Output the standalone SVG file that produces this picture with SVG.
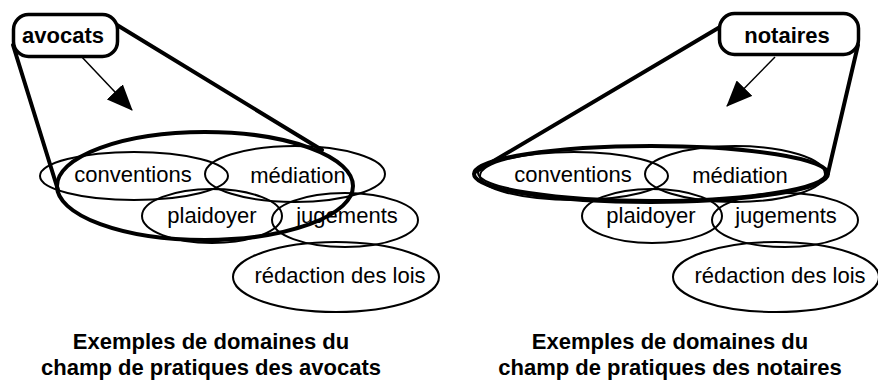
<svg xmlns="http://www.w3.org/2000/svg" width="878" height="381" viewBox="0 0 878 381">
<style>
  .dom { fill: none; stroke: #000; stroke-width: 2; }
  .scope { fill: none; stroke: #000; stroke-width: 4; }
  .box { fill: #fff; stroke: #000; stroke-width: 3.5; }
  .lbl { font-family: "Liberation Sans", Arial, sans-serif; font-size: 22px; fill: #000; text-anchor: middle; }
  .bold { font-weight: bold; }
  .arrow { fill: none; stroke: #000; stroke-width: 1.5; }
  .edge { fill: none; stroke: #000; stroke-width: 4; stroke-linecap: round; }
</style>
<defs>
  <marker id="head" viewBox="0 0 26 22" refX="25" refY="11" markerWidth="26" markerHeight="22" markerUnits="userSpaceOnUse" orient="auto">
    <path d="M0,0 L26,11 L0,22 Z" fill="#000"/>
  </marker>
</defs>
<rect width="878" height="381" fill="#fff"/>

<!-- Left panel: domains -->
<g id="l-conventions"><ellipse class="dom" cx="134" cy="176" rx="94" ry="24"/><text class="lbl" x="133" y="182">conventions</text></g>
<g id="l-mediation"><ellipse class="dom" cx="295" cy="174" rx="90" ry="28"/><text class="lbl" x="298" y="183">médiation</text></g>
<g id="l-plaidoyer"><ellipse class="dom" cx="212" cy="216" rx="70" ry="27"/><text class="lbl" x="212" y="223">plaidoyer</text></g>
<g id="l-jugements"><ellipse class="dom" cx="345" cy="220" rx="73" ry="27"/><text class="lbl" x="347" y="223">jugements</text></g>
<g id="l-redaction"><ellipse class="dom" cx="336" cy="277" rx="103" ry="35"/><text class="lbl" x="340" y="283">rédaction des lois</text></g>
<g id="l-scope"><ellipse class="scope" cx="205" cy="186" rx="148" ry="54"/></g>

<!-- Right panel: domains -->
<g id="r-conventions"><ellipse class="dom" cx="574" cy="176" rx="94" ry="24"/><text class="lbl" x="573" y="182">conventions</text></g>
<g id="r-mediation"><ellipse class="dom" cx="735" cy="174" rx="90" ry="28"/><text class="lbl" x="740" y="183">médiation</text></g>
<g id="r-plaidoyer"><ellipse class="dom" cx="652" cy="216" rx="70" ry="27"/><text class="lbl" x="651" y="223">plaidoyer</text></g>
<g id="r-jugements"><ellipse class="dom" cx="785" cy="220" rx="73" ry="27"/><text class="lbl" x="786" y="223">jugements</text></g>
<g id="r-redaction"><ellipse class="dom" cx="776" cy="277" rx="103" ry="35"/><text class="lbl" x="780" y="283">rédaction des lois</text></g>
<g id="r-scope"><ellipse class="scope" cx="651" cy="174" rx="177" ry="28"/><ellipse class="dom" cx="652" cy="173" rx="174" ry="27"/></g>

<!-- Connectors -->
<g id="connectors">
  <line class="edge" x1="13" y1="45" x2="58" y2="190"/>
  <line class="edge" x1="117" y1="25" x2="322" y2="150"/>
  <line class="arrow" x1="80" y1="55" x2="132" y2="110" marker-end="url(#head)"/>
  <line class="edge" x1="720" y1="27" x2="475" y2="172"/>
  <line class="edge" x1="858" y1="45" x2="828" y2="173"/>
  <line class="arrow" x1="775" y1="57" x2="727" y2="106" marker-end="url(#head)"/>
</g>

<!-- Actor boxes -->
<g id="avocats"><rect class="box" x="13.5" y="14.5" width="104" height="42" rx="15"/><text class="lbl bold" x="63" y="43">avocats</text></g>
<g id="notaires"><rect class="box" x="719.5" y="13.5" width="139" height="41" rx="15"/><text class="lbl bold" x="787" y="43">notaires</text></g>

<!-- Captions -->
<g id="caption-left"><text class="lbl bold" x="211" y="349">Exemples de domaines du</text><text class="lbl bold" x="211" y="375">champ de pratiques des avocats</text></g>
<g id="caption-right"><text class="lbl bold" x="670" y="349">Exemples de domaines du</text><text class="lbl bold" x="670" y="375">champ de pratiques des notaires</text></g>
</svg>
